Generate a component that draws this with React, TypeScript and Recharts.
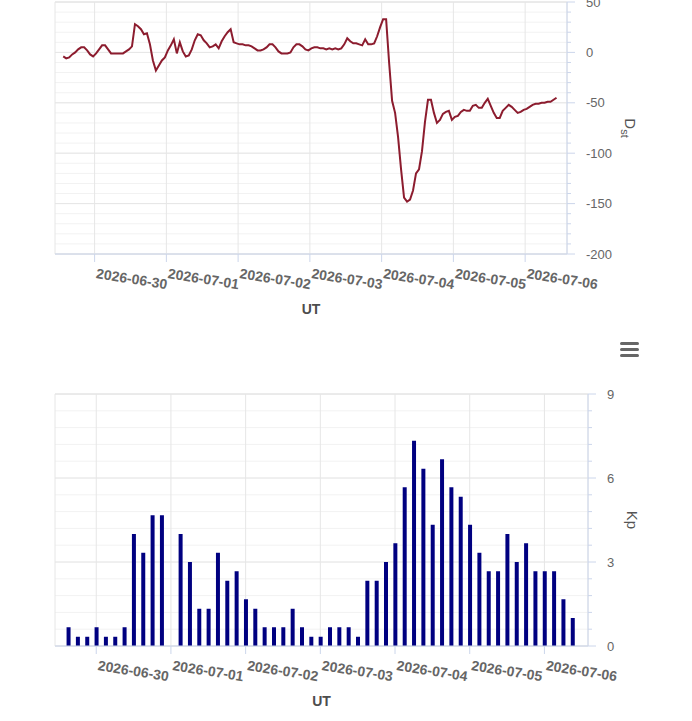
import {
  Bar,
  BarChart,
  CartesianGrid,
  Line,
  LineChart,
  ReferenceArea,
  XAxis,
  YAxis,
} from 'recharts';

const HOUR = 3600 * 1000;
// 2026-06-29 00:00 UT
const T0 = Date.UTC(2026, 5, 29);

// x range shown on both panels (hours after T0)
const X_DOMAIN = [T0 + 10.75 * HOUR, T0 + 182 * HOUR];

const DAY_LABELS = [
  '2026-06-30',
  '2026-07-01',
  '2026-07-02',
  '2026-07-03',
  '2026-07-04',
  '2026-07-05',
  '2026-07-06',
];
const DAY_TICKS = DAY_LABELS.map((d) => Date.parse(d + 'T00:00:00Z'));

// hourly Dst (nT), first value at 06-29 13:30 UT
const DST_START = T0 + 13.5 * HOUR;
const DST_VALUES = [
  -4, -6, -5, -2, 0, 3, 5, 5, 2, -2, -4, -1, 3, 7, 7, 3, -1, -1, -1, -1,
  -1, 1, 3, 6, 28, 26, 23, 18, 19, 8, -8, -18, -13, -8, -5, 2, 7, 13, -1, 10,
  1, -4, -3, 3, 12, 18, 17, 12, 9, 5, 6, 8, 4, 11, 16, 20, 23, 10, 9, 8,
  8, 7, 7, 6, 4, 2, 2, 3, 5, 8, 8, 5, 1, -1, -1, -1, 0, 5, 8, 8,
  6, 3, 2, 4, 5, 5, 4, 4, 3, 4, 3, 4, 3, 4, 8, 14, 11, 9, 9, 8,
  7, 13, 8, 8, 9, 16, 25, 33, 33, -10, -48, -60, -84, -116, -144, -148, -146, -137, -120, -116,
  -98, -69, -47, -47, -60, -70, -67, -61, -59, -58, -67, -64, -63, -59, -57, -58, -58, -53, -52, -55,
  -55, -50, -46, -53, -60, -65, -65, -58, -55, -52, -54, -57, -60, -59, -57, -56, -54, -52, -51, -51,
  -50, -50, -49, -49, -47, -45,
];
const DST_MAJOR_TICKS = [-200, -150, -100, -50, 0, 50];

// 3-hourly Kp, first value at 06-29 15:00 UT (07-01 00:00 missing)
const KP_START = T0 + 15 * HOUR;
const KP_VALUES = [
  0.67, 0.33, 0.33, 0.67, 0.33, 0.33, 0.67, 4, 3.33, 4.67, 4.67, null,
  4, 3, 1.33, 1.33, 3.33, 2.33, 2.67, 1.67, 1.33, 0.67, 0.67, 0.67,
  1.33, 0.67, 0.33, 0.33, 0.67, 0.67, 0.67, 0.33, 2.33, 2.33, 3, 3.67,
  5.67, 7.33, 6.33, 4.33, 6.67, 5.67, 5.33, 4.33, 3.33, 2.67, 2.67, 4,
  3, 3.67, 2.67, 2.67, 2.67, 1.67, 1,
];
const KP_MAJOR_TICKS = [0, 3, 6, 9];

const dstData = DST_VALUES.map((dst, i) => ({ t: DST_START + i * HOUR, dst }));
const kpData = KP_VALUES.map((kp, i) => ({ t: KP_START + i * 3 * HOUR, kp }));

// majors plus 4 minor steps in between (Highcharts-style minor grid)
function withMinors(majors: number[]) {
  const out: number[] = [];
  for (let i = 0; i < majors.length - 1; i++) {
    const step = (majors[i + 1] - majors[i]) / 5;
    for (let j = 0; j < 5; j++) out.push(+(majors[i] + j * step).toFixed(4));
  }
  out.push(majors[majors.length - 1]);
  return out;
}

const FONT = '"Liberation Sans", Arial, Helvetica, sans-serif';
const AXIS_LINE = '#ccd6eb';
const GRID_MAJOR = '#e6e6e6';
const GRID_MINOR = '#f2f2f2';

function DateTick({ x, y, payload }: any) {
  const label = new Date(payload.value).toISOString().slice(0, 10);
  const tx = x + 1;
  const ty = y + 16;
  return (
    <text
      x={tx}
      y={ty}
      transform={`rotate(9 ${tx} ${ty})`}
      textAnchor="start"
      fill="#666"
      fontSize={14}
      fontWeight="bold"
      fontFamily={FONT}
    >
      {label}
    </text>
  );
}

function ValueTick({ x, y, payload, majors }: any) {
  const v = payload.value as number;
  const isMajor = majors.some((m: number) => Math.abs(m - v) < 1e-6);
  return (
    <g>
      <line x1={x} x2={x + (isMajor ? 8 : 4)} y1={y} y2={y} stroke={AXIS_LINE} />
      {isMajor && (
        <text
          x={x + 19}
          y={y}
          dominantBaseline="central"
          textAnchor="start"
          fill="#666"
          fontSize={13}
          fontFamily={FONT}
        >
          {Math.round(v)}
        </text>
      )}
    </g>
  );
}

function UtTitle({ viewBox }: any) {
  const cx = viewBox.x + viewBox.width / 2;
  const cy = viewBox.y + 55;
  return (
    <text
      x={cx}
      y={cy}
      textAnchor="middle"
      dominantBaseline="central"
      fill="#4d4d4d"
      fontSize={14}
      fontWeight="bold"
      fontFamily={FONT}
    >
      UT
    </text>
  );
}

function SideTitle({ viewBox, main, sub, dx }: any) {
  const cx = viewBox.x + dx;
  const cy = viewBox.y + viewBox.height / 2;
  return (
    <text
      x={cx}
      y={cy}
      transform={`rotate(90 ${cx} ${cy})`}
      textAnchor="middle"
      dominantBaseline="central"
      fill="#555"
      fontSize={15}
      fontFamily={FONT}
    >
      {main}
      {sub && (
        <tspan fontSize={11} dy={5}>
          {sub}
        </tspan>
      )}
    </text>
  );
}

function MenuIcon() {
  return (
    <div style={{ position: 'absolute', left: 620, top: 342, width: 19 }}>
      {[0, 6, 12].map((top) => (
        <div
          key={top}
          style={{
            position: 'absolute',
            top,
            left: 0,
            width: 19,
            height: 3,
            borderRadius: 1.5,
            background: '#666',
          }}
        />
      ))}
    </div>
  );
}

export default function App() {
  const dstTicks = withMinors(DST_MAJOR_TICKS);
  const kpTicks = withMinors(KP_MAJOR_TICKS);

  return (
    <div
      style={{
        position: 'absolute',
        left: 0,
        top: 0,
        width: 692,
        height: 721,
        overflow: 'hidden',
        background: '#fff',
        fontFamily: FONT,
      }}
    >
      <div style={{ position: 'absolute', left: 0, top: 0 }}>
        <LineChart
          width={692}
          height={320}
          data={dstData}
          margin={{ top: 2, right: 0, bottom: 0, left: 55 }}
        >
          <CartesianGrid
            stroke={GRID_MINOR}
            vertical={false}
            horizontalValues={dstTicks}
          />
          <CartesianGrid
            stroke={GRID_MAJOR}
            horizontalValues={DST_MAJOR_TICKS}
            verticalValues={DAY_TICKS}
          />
          <ReferenceArea
            x1={X_DOMAIN[0]}
            x2={X_DOMAIN[1]}
            y1={-200}
            y2={50}
            fill="none"
            stroke={GRID_MAJOR}
          />
          <XAxis
            dataKey="t"
            type="number"
            domain={X_DOMAIN}
            allowDataOverflow
            ticks={DAY_TICKS}
            interval={0}
            height={66}
            tickSize={8}
            tickMargin={0}
            stroke={AXIS_LINE}
            tick={<DateTick />}
            label={<UtTitle />}
          />
          <YAxis
            orientation="right"
            type="number"
            domain={[-200, 50]}
            allowDataOverflow
            ticks={dstTicks}
            interval={0}
            width={125}
            tickSize={0}
            tickMargin={0}
            tickLine={false}
            stroke={AXIS_LINE}
            tick={(props: any) => <ValueTick {...props} majors={DST_MAJOR_TICKS} />}
            label={<SideTitle main="D" sub="st" dx={63} />}
          />
          <Line
            type="linear"
            dataKey="dst"
            stroke="#8c1c2e"
            strokeWidth={2}
            dot={false}
            isAnimationActive={false}
          />
        </LineChart>
      </div>

      <MenuIcon />

      <div style={{ position: 'absolute', left: 0, top: 380 }}>
        <BarChart
          width={692}
          height={341}
          data={kpData}
          margin={{ top: 14, right: 0, bottom: 0, left: 55 }}
        >
          <CartesianGrid
            stroke={GRID_MINOR}
            vertical={false}
            horizontalValues={kpTicks}
          />
          <CartesianGrid
            stroke={GRID_MAJOR}
            horizontalValues={KP_MAJOR_TICKS}
            verticalValues={DAY_TICKS}
          />
          <ReferenceArea
            x1={X_DOMAIN[0]}
            x2={X_DOMAIN[1]}
            y1={0}
            y2={9}
            fill="none"
            stroke={GRID_MAJOR}
          />
          <XAxis
            dataKey="t"
            type="number"
            domain={X_DOMAIN}
            allowDataOverflow
            ticks={DAY_TICKS}
            interval={0}
            height={75}
            tickSize={8}
            tickMargin={0}
            stroke={AXIS_LINE}
            tick={<DateTick />}
            label={<UtTitle />}
          />
          <YAxis
            orientation="right"
            type="number"
            domain={[0, 9]}
            allowDataOverflow
            ticks={kpTicks}
            interval={0}
            width={104}
            tickSize={0}
            tickMargin={0}
            tickLine={false}
            stroke={AXIS_LINE}
            tick={(props: any) => <ValueTick {...props} majors={KP_MAJOR_TICKS} />}
            label={<SideTitle main="Kp" dx={44} />}
          />
          <Bar dataKey="kp" fill="#000080" barSize={4} isAnimationActive={false} />
        </BarChart>
      </div>
    </div>
  );
}
